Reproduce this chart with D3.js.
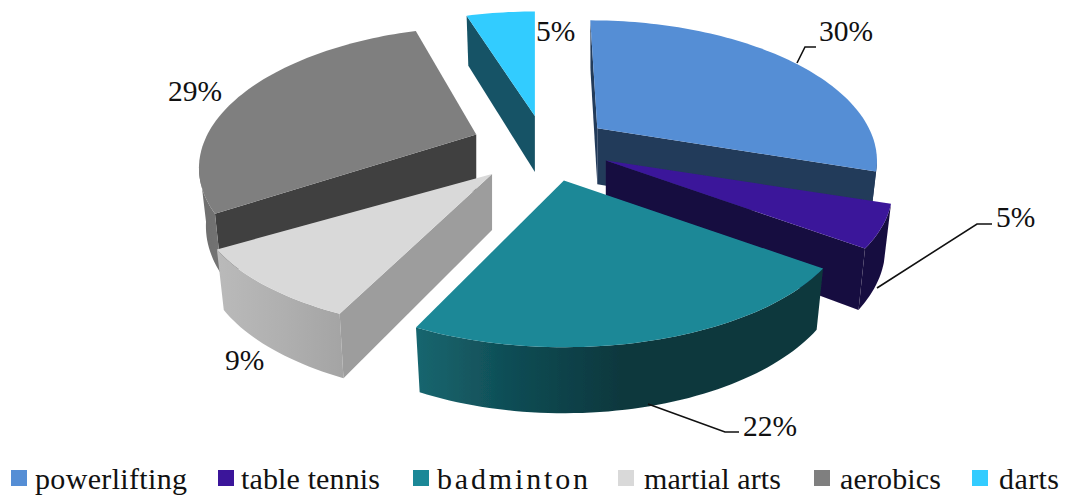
<!DOCTYPE html>
<html>
<head>
<meta charset="utf-8">
<script src="https://cdn.jsdelivr.net/npm/d3@7"></script>
<style>
  html, body { margin: 0; padding: 0; background: #fff; overflow: hidden; }
  text { font-family: "Liberation Serif", serif; fill: #111; }
</style>
</head>
<body>
<svg width="1074" height="495"></svg>
<script>
// data
var categories = ["powerlifting", "table tennis", "badminton", "martial arts", "aerobics", "darts"];
var values = [30, 5, 22, 9, 29, 5];
var labels = ["30%", "5%", "22%", "9%", "29%", "5%"];

// colours per slice
var topColors = ["#558ed5", "#3b159a", "#1b8897", "#d9d9d9", "#7f7f7f", "#33ccff"];
var wallColors = ["#243a5a", "#190a40", "#0c373d", "#9d9d9d", "#3f3f3f", "#155366"];
var rimColors = [
    ["#243a5a", "#243a5a"],
    ["#190a40", "#190a40"],
    ["#17666f", "#0f4b53", "#0c383e", "#0c373d", "#0c373d"],
    ["#bababa", "#b0b0b0", "#a4a4a4"],
    ["#6e6e6e", "#737373"],
    ["#155366", "#155366"]
];

// how far each slice is pulled out of the middle, fraction of radius
var explode = [0.26, 0.22, 0.215, 0.24, 0.28, 0.28];
// small corrections per slice, the original 3d view is not a clean ellipse
var xStretch = [0.97, 1, 1, 1.03, 0.96, 0.95];
var yStretch = [1, 1, 1, 0.95, 1, 0.97];
var skew = [7, 0, 0, 0, -9, 0];
// back to front
var drawOrder = [5, 4, 0, 1, 3, 2];

// layout of labels, leaders and legend
var labelX = [819, 996, 743, 225, 168, 536];
var labelY = [41, 227, 436, 370, 101, 41];
var leaders = [
    [[797, 63], [805, 47], [816, 47]],
    [[877, 288], [977, 224], [992, 224]],
    [[648, 404], [725, 432], [739, 432]]
];
var legendSwatchX = [11, 218, 413, 618, 814, 972];
var legendTextX = [35, 241, 437, 644, 840, 999];
var legendTextW = [152, 139, 151, 137, 101, 60];

var svg = d3.select("svg");

var cx = 545, cy = 146;
var radius = 280, radiusY = 131, persp = 0.2145;
var depth = 56;
// widest point of the perspective ellipse lies in front of 90 and 270 degrees
var rimInset = Math.asin(persp);

// flat circle to screen, with a bit of perspective so the front is bigger
function project(angle, r) {
    var u = Math.sin(angle), v = -Math.cos(angle);
    var s = 1 / (1 - persp * v);
    return [radius * u * s * r, radiusY * v * s * r];
}

var pie = d3.pie().sort(null).value(function (d) { return d; });
var arcs = pie(values);

var line = d3.line();

var defs = svg.append("defs");
defs.append("filter").attr("id", "soft")
    .append("feGaussianBlur").attr("stdDeviation", 0.45);

var chart = svg.append("g").attr("filter", "url(#soft)");

rimColors.forEach(function (stops, i) {
    var grad = defs.append("linearGradient").attr("id", "rim" + i);
    stops.forEach(function (c, j) {
        grad.append("stop")
            .attr("offset", j / (stops.length - 1))
            .attr("stop-color", c);
    });
});

drawOrder.forEach(function (i) {
    var a = arcs[i];
    var mid = (a.startAngle + a.endAngle) / 2;
    var off = project(mid, explode[i]);
    var ax = cx + off[0], ay = cy + off[1];

    function rimPoint(angle) {
        var p = project(angle, 1);
        return [p[0] * xStretch[i] - Math.cos(angle) * skew[i], p[1] * yStretch[i]];
    }
    function top(angle) {
        var p = rimPoint(angle);
        return [ax + p[0], ay + p[1]];
    }
    function bottom(angle) {
        var p = rimPoint(angle);
        return [ax + p[0] * 0.975, ay + depth + p[1] * 1.06];
    }
    function sweep(from, to, fn) {
        var n = Math.max(2, Math.ceil((to - from) * 40));
        return d3.range(n + 1).map(function (k) {
            return fn(from + (to - from) * k / n);
        });
    }
    function wall(angle) {
        return line([[ax, ay], top(angle), bottom(angle), [ax, ay + depth]]) + "Z";
    }

    var g = chart.append("g").attr("class", "slice");

    // side walls, only the ones that face us
    if (Math.sin(a.startAngle) <= 0.001) {
        g.append("path").attr("d", wall(a.startAngle)).attr("fill", wallColors[i]);
    }
    if (Math.sin(a.endAngle) > 0 && a.endAngle < Math.PI * 2 - 0.001) {
        g.append("path").attr("d", wall(a.endAngle)).attr("fill", wallColors[i]);
    }

    // outer rim, front part only
    var from = Math.max(a.startAngle, Math.PI / 2 + rimInset);
    var to = Math.min(a.endAngle, Math.PI * 1.5 - rimInset);
    if (to > from) {
        var rim = sweep(from, to, top).concat(sweep(from, to, bottom).reverse());
        g.append("path")
            .attr("d", line(rim) + "Z")
            .attr("fill", "url(#rim" + i + ")");
    }

    // top face
    var face = [[ax, ay]].concat(sweep(a.startAngle, a.endAngle, top));
    g.append("path").attr("d", line(face) + "Z").attr("fill", topColors[i]);
});

// leaders
svg.selectAll(".leader")
    .data(leaders)
    .enter().append("path")
    .attr("class", "leader")
    .attr("d", function (d) { return line(d); })
    .attr("fill", "none")
    .attr("stroke", "#111")
    .attr("stroke-width", 1.6);

// percent labels
svg.selectAll(".label")
    .data(labels)
    .enter().append("text")
    .attr("class", "label")
    .attr("x", function (d, i) { return labelX[i]; })
    .attr("y", function (d, i) { return labelY[i]; })
    .attr("font-size", 29.5)
    .text(function (d) { return d; });

// legend
svg.selectAll(".swatch")
    .data(categories)
    .enter().append("rect")
    .attr("class", "swatch")
    .attr("x", function (d, i) { return legendSwatchX[i]; })
    .attr("y", 470)
    .attr("width", 16)
    .attr("height", 16)
    .attr("fill", function (d, i) { return topColors[i]; });

svg.selectAll(".legend")
    .data(categories)
    .enter().append("text")
    .attr("class", "legend")
    .attr("x", function (d, i) { return legendTextX[i]; })
    .attr("y", 488.5)
    .attr("font-size", 30)
    .attr("textLength", function (d, i) { return legendTextW[i]; })
    .attr("lengthAdjust", "spacing")
    .text(function (d) { return d; });
</script>
</body>
</html>
